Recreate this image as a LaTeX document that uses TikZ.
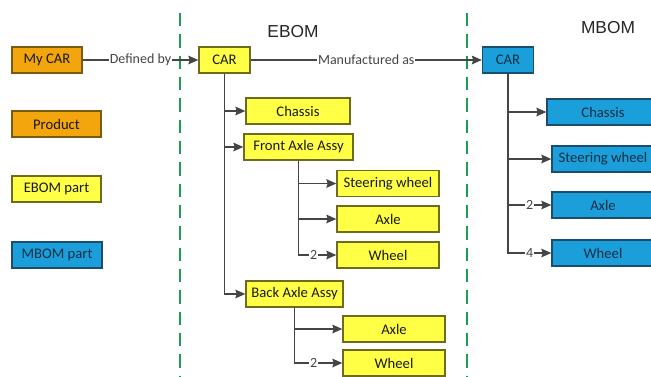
\documentclass[tikz,border=0pt]{standalone}
\usepackage{fontspec}
\setmainfont{Carlito}
\newfontfamily\titlefont{Liberation Sans}
\usetikzlibrary{arrows.meta}
\definecolor{prodfill}{HTML}{F2A50C}
\definecolor{prodline}{HTML}{7A5A10}
\definecolor{ebomfill}{HTML}{FFFF45}
\definecolor{ebomline}{HTML}{6E6A1E}
\definecolor{mbomfill}{HTML}{1A9FDB}
\definecolor{mbomline}{HTML}{1D4D6E}
\definecolor{sepgreen}{HTML}{1E9B55}
\definecolor{wire}{HTML}{454545}
\tikzset{
  x=0.75pt, y=-0.75pt,
  >={Stealth[length=7.5pt,width=6.5pt,inset=1pt]},
  part/.style={draw, line width=1pt, minimum height=19.5pt, inner sep=1pt,
               font=\fontsize{11}{13}\selectfont, text=black!90},
  product/.style={part, fill=prodfill, draw=prodline},
  ebom/.style={part, fill=ebomfill, draw=ebomline},
  mbom/.style={part, fill=mbomfill, draw=mbomline, text=mbomline!60!black},
  link/.style={->, draw=wire, line width=0.9pt},
  lbl/.style={fill=white, inner sep=0.5pt, text=wire, font=\fontsize{10.5}{12}\selectfont},
  separator/.style={draw=sepgreen, line width=2pt, dash pattern=on 10pt off 6pt},
  heading/.style={font=\titlefont\fontsize{13}{15}\selectfont, text=black!85},
}
\begin{document}
\begin{tikzpicture}
  \clip (0,0) rectangle (651,376);
  \fill[white] (0,0) rectangle (651,376);

  % legend
  \node[product, minimum width=52.5pt] (mycar)    at (47,60)    {My CAR};
  \node[product, minimum width=66.75pt] (product) at (56.5,124) {Product};
  \node[ebom, minimum width=66.75pt] (ebompart)   at (56.5,189) {EBOM part};
  \node[mbom, minimum width=67.5pt] (mbompart)    at (57,255)   {MBOM part};

  % separators and headings
  \draw[separator] (180,13) -- (180,380);
  \draw[separator] (467,13) -- (467,380);
  \node[heading] (ebomtitle) at (293,32) {EBOM};
  \node[heading] (mbomtitle) at (608,28) {MBOM};

  % EBOM
  \node[ebom, minimum width=38.25pt] (ecar)   at (224.5,60) {CAR};
  \node[ebom, minimum width=78pt]    (echassis) at (298,111) {Chassis};
  \node[ebom, minimum width=81.75pt] (efront) at (298.5,147) {Front Axle Assy};
  \node[ebom, minimum width=76.5pt]  (esteer) at (388,183.5) {Steering wheel};
  \node[ebom, minimum width=76.5pt]  (eaxle)  at (388,219)   {Axle};
  \node[ebom, minimum width=76.5pt]  (ewheel) at (388,255)   {Wheel};
  \node[ebom, minimum width=72.75pt] (eback)  at (294.5,294) {Back Axle Assy};
  \node[ebom, minimum width=76.5pt]  (ebaxle) at (394,329)   {Axle};
  \node[ebom, minimum width=76.5pt]  (ebwheel) at (394,363)  {Wheel};

  % MBOM
  \node[mbom, minimum width=38.25pt] (mcar)   at (508,60)   {CAR};
  \node[mbom, minimum width=84pt]    (mchassis) at (603,112) {Chassis};
  \node[mbom, minimum width=76.5pt]  (msteer) at (603,159)  {Steering wheel};
  \node[mbom, minimum width=76.5pt]  (maxle)  at (603,205)  {Axle};
  \node[mbom, minimum width=76.5pt]  (mwheel) at (603,253)  {Wheel};

  % relations
  \draw[link] (mycar) -- node[lbl] {Defined by} (ecar);
  \draw[link] (ecar) -- node[lbl] {Manufactured as} (mcar);

  \draw[link] (ecar.south) |- (echassis.west);
  \draw[link] (ecar.south) |- (efront.west);
  \draw[link] (ecar.south) |- (eback.west);
  \draw[link] (efront.south) |- (esteer.west);
  \draw[link] (efront.south) |- (eaxle.west);
  \draw[link] (efront.south) |- node[lbl, pos=0.7] {2} (ewheel.west);
  \draw[link] (eback.south) |- (ebaxle.west);
  \draw[link] (eback.south) |- node[lbl, pos=0.7] {2} (ebwheel.west);

  \draw[link] (mcar.south) |- (mchassis.west);
  \draw[link] (mcar.south) |- (msteer.west);
  \draw[link] (mcar.south) |- node[lbl, pos=0.75] {2} (maxle.west);
  \draw[link] (mcar.south) |- node[lbl, pos=0.75] {4} (mwheel.west);
\end{tikzpicture}
\end{document}
